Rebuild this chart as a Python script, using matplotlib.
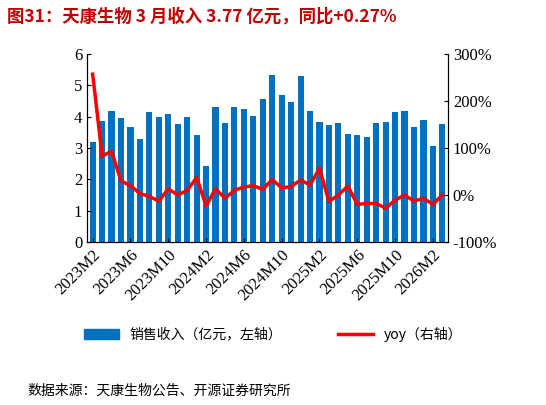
import matplotlib
matplotlib.use("Agg")
import matplotlib.pyplot as plt
from matplotlib.lines import Line2D
from matplotlib.patches import Patch

months = []
for y in (2023, 2024, 2025, 2026):
    for m in range(1, 13):
        if (y == 2023 and m < 2) or (y == 2026 and m > 3):
            continue
        months.append(f"{y}M{m}")
sales = [3.2, 3.85, 4.17, 3.97, 3.68, 3.3, 4.15, 4.0, 4.1, 3.78, 4.0, 3.4, 2.43, 4.32, 3.8, 4.3,
         4.25, 4.02, 4.57, 5.33, 4.7, 4.47, 5.29, 4.17, 3.82, 3.75, 3.79, 3.45, 3.40, 3.34, 3.79,
         3.83, 4.15, 4.19, 3.67, 3.90, 3.07, 3.76]
yoy = [257, 83, 93, 30, 20, 3, -3, -13, 13, 0, 10, 37, -23, 13, -7, 10, 17, 20, 12, 33, 15, 18,
       32, 21, 57, -14, 0, 19, -20, -18, -18, -28, -11, 0, -13, -7, -20, 0.27]

serif = ['Liberation Serif', 'Noto Sans CJK SC']
cjk = ['Noto Sans CJK SC', 'DejaVu Sans']
fig = plt.figure(figsize=(5.46, 4.05), dpi=100)
ax = fig.add_axes([87/546, 1-242/405, (448-87)/546, (242-54)/405])
x = list(range(len(months)))
ax.bar(x, sales, width=0.65, color='#0070C0')
ax.set_ylim(0, 6)
ax.set_xlim(-0.6, len(months)-0.4)
ax.set_yticks(range(7))
ax2 = ax.twinx()
ax2.plot(x, yoy, color='#FF0000', lw=2.5)
ax2.set_ylim(-100, 300)
ax2.set_yticks([-100, 0, 100, 200, 300])
ax2.set_yticklabels([f"{v}%" for v in [-100, 0, 100, 200, 300]])
ax.set_xticks(x[::4])
ax.set_xticklabels(months[::4], rotation=45, ha='right', rotation_mode='anchor')
for a in (ax, ax2):
    a.spines['top'].set_visible(False)
    for lab in a.get_xticklabels() + a.get_yticklabels():
        lab.set_family(serif); lab.set_fontsize(12)
    a.tick_params(direction='in', length=3)
ax.tick_params(axis='x', length=3, direction='in')

fig.text(0.012, 0.96, "图31：天康生物 3 月收入 3.77 亿元，同比+0.27%", fontsize=12.5,
         fontweight='bold', color='#C00000', family=cjk, va='center')
fig.legend([Patch(color='#0070C0'), Line2D([], [], color='#FF0000', lw=2.5)],
           ["销售收入（亿元，左轴）", "yoy（右轴）"], loc='center', ncol=2,
           bbox_to_anchor=(0.5, 0.175), frameon=False, prop={'family': cjk, 'size': 10},
           columnspacing=4, handlelength=2.5)
fig.text(0.05, 0.035, "数据来源：天康生物公告、开源证券研究所", fontsize=10, family=cjk, va='center')
fig.savefig("out.png", dpi=100)
